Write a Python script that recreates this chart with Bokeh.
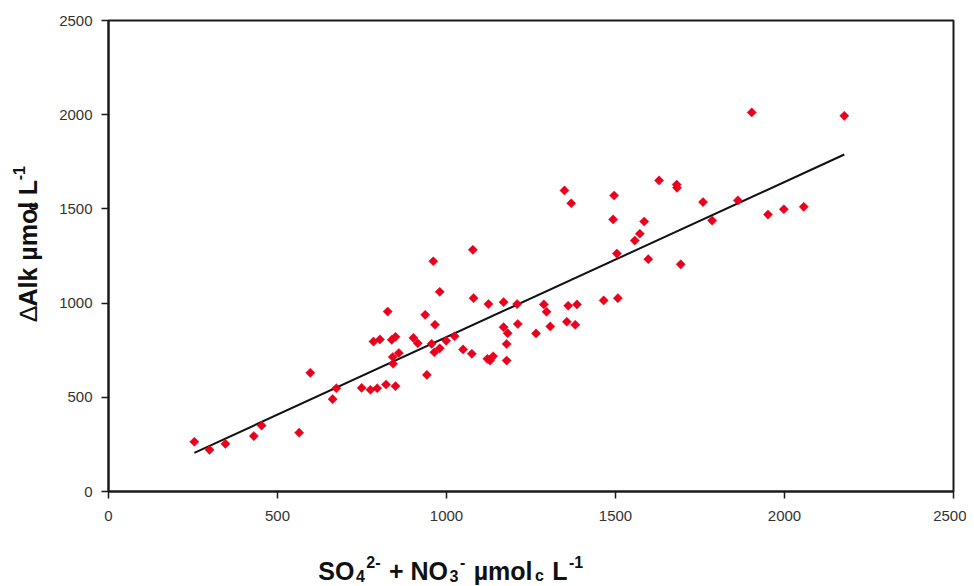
import math
from bokeh.plotting import figure
from bokeh.models import Range1d, Label, ColumnDataSource, Spacer
from bokeh.layouts import column, row
from bokeh.embed import file_html
from bokeh.resources import INLINE

# ---- data ----
so4_no3 = [254, 299, 346, 430, 453, 564, 597, 663, 674, 749,
           775, 795, 821, 849, 826, 784, 803, 838, 849, 841,
           859, 842, 902, 915, 937, 966, 942, 956, 964, 980,
           980, 999, 1024, 1049, 1075, 1080, 961, 1078, 1124, 1169,
           1209, 1288, 1296, 1360, 1386, 1465, 1507, 1121, 1138, 1129,
           1178, 1178, 1169, 1181, 1211, 1265, 1307, 1356, 1381, 1349,
           1369, 1496, 1493, 1504, 1557, 1572, 1585, 1597, 1629, 1681,
           1682, 1693, 1759, 1786, 1862, 1903, 1951, 1998, 2057, 2177]
delta_alk = [264, 221, 253, 294, 350, 312, 630, 490, 548, 550,
             540, 548, 568, 559, 955, 796, 807, 805, 821, 714,
             735, 678, 815, 787, 938, 885, 619, 784, 739, 760,
             1060, 800, 824, 754, 731, 1026, 1222, 1283, 995, 1005,
             995, 993, 954, 986, 993, 1014, 1026, 704, 718, 695,
             695, 783, 872, 840, 889, 839, 876, 901, 885, 1598,
             1530, 1571, 1444, 1263, 1332, 1368, 1433, 1233, 1651, 1629,
             1612, 1206, 1536, 1438, 1545, 2012, 1470, 1498, 1511, 1994]
fit_slope = 0.8235
fit_intercept = -4.0
x_ticks = [0, 500, 1000, 1500, 2000, 2500]
y_ticks = [0, 500, 1000, 1500, 2000, 2500]

FONT = "Liberation Sans"
LEFT_W = 50          # width of the strip holding the y title
MAIN_W, MAIN_H = 916, 527
XLAB_H = 58

p = figure(width=MAIN_W, height=MAIN_H, output_backend="svg", toolbar_location=None,
           x_range=Range1d(0, 2500), y_range=Range1d(0, 2500),
           min_border_left=58, min_border_right=13, min_border_top=20,
           min_border_bottom=36)
p.background_fill_color = "white"
p.border_fill_color = "white"
p.outline_line_color = "#1a1a1a"
p.outline_line_width = 2
p.xgrid.visible = False
p.ygrid.visible = False

for ax, ticks in ((p.xaxis, x_ticks), (p.yaxis, y_ticks)):
    ax.ticker = ticks
    ax.axis_line_color = "#1a1a1a"
    ax.axis_line_width = 2
    ax.major_tick_line_color = "#1a1a1a"
    ax.major_tick_line_width = 1.5
    ax.major_tick_out = 7
    ax.major_tick_in = 0
    ax.minor_tick_line_color = None
    ax.major_label_text_font = FONT
    ax.major_label_text_font_size = "15px"
    ax.major_label_text_color = "#333333"
p.xaxis.major_label_standoff = 12
p.yaxis.major_label_standoff = 9

# regression line from fit parameters over the data's x span
xmin, xmax = min(so4_no3), max(so4_no3)
p.line([xmin, xmax], [fit_slope * xmin + fit_intercept, fit_slope * xmax + fit_intercept],
       line_color="#111111", line_width=2)

src = ColumnDataSource(dict(x=so4_no3, y=delta_alk))
p.scatter("x", "y", source=src, marker="square", angle=math.pi / 4, size=6.5,
          fill_color="#e8001c", line_color="#e8001c", line_width=0.5)

# ---- axis titles with sub/superscripts, built from pieces ----
W = {"S": 667, "O": 778, "N": 722, "L": 611, "A": 722, "l": 278, "k": 556, " ": 278,
     "+": 584, "-": 333, "µ": 611, "m": 889, "o": 611, "c": 556, "∆": 612}


def width(txt, size):
    return sum(W.get(ch, 556) for ch in txt) * size / 1000.0


MAIN, SMALL = 25, 16
x_pieces = [("SO", "main"), ("4", "sub"), ("2-", "sup"), (" + NO", "main"), ("3", "sub"),
            ("-", "sup"), (" µmol", "main"), ("c", "sub"), (" L", "main"), ("-1", "sup")]
y_pieces = [("∆", "delta"), ("Alk µmol", "main"), ("c", "sub"), (" L", "main"), ("-1", "sup")]


def piece_style(kind):
    if kind == "main":
        return MAIN, 0, "bold"
    if kind == "delta":
        return MAIN, 0, "normal"
    if kind == "sub":
        return SMALL, -5, "bold"
    return SMALL, 9, "bold"


def total(pieces):
    return sum(width(t, piece_style(k)[0]) + 1.5 for t, k in pieces)


def strip(w, h):
    f = figure(width=w, height=h, output_backend="svg", toolbar_location=None,
               x_range=Range1d(0, w), y_range=Range1d(0, h),
               x_axis_type=None, y_axis_type=None,
               min_border=0, min_border_left=0, min_border_right=0,
               min_border_top=0, min_border_bottom=0)
    f.outline_line_color = None
    f.xgrid.visible = False
    f.ygrid.visible = False
    f.background_fill_color = "white"
    f.border_fill_color = "white"
    return f


def place(fig, pieces, start, base, rotated):
    pos = start
    for t, k in pieces:
        size, shift, style = piece_style(k)
        lead = len(t) - len(t.lstrip(" "))
        pos += width(" " * lead, size)
        txt = t.lstrip(" ")
        if rotated:
            lab = Label(x=base - shift, y=pos, text=txt, angle=math.pi / 2)
        else:
            lab = Label(x=pos, y=base + shift, text=txt)
        lab.text_font = FONT
        lab.text_font_size = f"{size}px"
        lab.text_font_style = style
        lab.text_color = "#111111"
        lab.text_baseline = "alphabetic"
        lab.text_align = "left"
        fig.add_layout(lab)
        pos += width(txt, size) + 1.5


# x title strip (below the main plot)
xlab = strip(MAIN_W, XLAB_H)
place(xlab, x_pieces, 401 - total(x_pieces) / 2, 15, False)

# y title strip (left of the main plot), rotated text
ylab = strip(LEFT_W, MAIN_H)
place(ylab, y_pieces, 277 - total(y_pieces) / 2, 27, True)

page = column(row(ylab, p), row(Spacer(width=LEFT_W, height=XLAB_H), xlab))
open("out.html", "w").write(file_html(page, INLINE))
